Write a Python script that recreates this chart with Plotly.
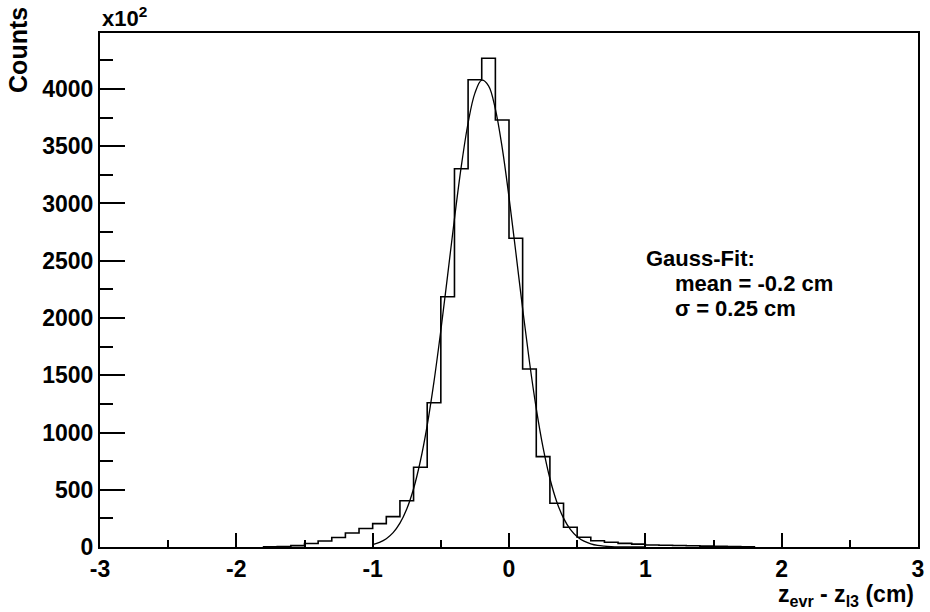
import plotly.graph_objects as go

# Histogram: lower bin edges (width 0.1) and counts (in units of 10^2)
bin_lo = [-1.8, -1.7, -1.6, -1.5, -1.4, -1.3, -1.2, -1.1, -1.0, -0.9,
          -0.8, -0.7, -0.6, -0.5, -0.4, -0.3, -0.2, -0.1, 0.0, 0.1,
          0.2, 0.3, 0.4, 0.5, 0.6, 0.7, 0.8, 0.9, 1.0, 1.1,
          1.2, 1.3, 1.4, 1.5, 1.6, 1.7]
counts = [2, 5, 12, 30, 52, 83, 122, 162, 204, 265,
          404, 696, 1260, 2186, 3304, 4081, 4268, 3729, 2696, 1555,
          789, 382, 172, 85, 55, 42, 32, 25, 18, 15,
          13, 11, 8, 6, 4, 2]
bin_width = 0.1

# Gauss fit curve
fit_x = [-1.0, -0.95, -0.9, -0.85, -0.8, -0.75, -0.7, -0.65, -0.6, -0.55,
         -0.5, -0.45, -0.4, -0.35, -0.3, -0.25, -0.2, -0.15, -0.1, -0.05,
         0.0, 0.05, 0.1, 0.15, 0.2, 0.25, 0.3, 0.35, 0.4, 0.45,
         0.5, 0.55, 0.6, 0.65, 0.7, 0.75, 0.8, 0.85, 0.9, 0.95, 1.0]
fit_y = [21, 40, 72, 125, 208, 332, 509, 751, 1063, 1447,
         1891, 2375, 2867, 3324, 3703, 3964, 4077, 4028, 3824, 3488,
         3056, 2574, 2082, 1618, 1208, 867, 598, 396, 252, 154,
         90, 51, 28, 14, 7, 3, 1, 1, 0, 0, 0]

x_ticks = [-3, -2, -1, 0, 1, 2, 3]
y_ticks = [0, 500, 1000, 1500, 2000, 2500, 3000, 3500, 4000]

FONT = "Liberation Sans, Arial, sans-serif"

# step outline
hx = [bin_lo[0]] + bin_lo + [bin_lo[-1] + bin_width]
hy = [0] + counts + [0]

fig = go.Figure()
fig.add_trace(go.Scatter(x=hx, y=hy, mode="lines", line_shape="hv",
                         line=dict(color="black", width=1.6), hoverinfo="skip"))
fig.add_trace(go.Scatter(x=fit_x, y=fit_y, mode="lines", line_shape="spline",
                         line=dict(color="black", width=1.3), hoverinfo="skip"))

fig.update_layout(
    width=930, height=612,
    margin=dict(l=100, r=6, t=33, b=65),
    paper_bgcolor="white", plot_bgcolor="white",
    showlegend=False,
    font=dict(family=FONT, size=24, color="black", weight=700),
)
fig.update_xaxes(
    range=[-3, 3], tickvals=x_ticks, ticktext=[str(v) for v in x_ticks],
    ticks="inside", ticklen=14, tickwidth=1.5, tickcolor="black",
    minor=dict(dtick=0.5, tick0=0, ticks="inside", ticklen=7, tickwidth=1.5, tickcolor="black"),
    showline=True, linecolor="black", linewidth=2, mirror=True,
    showgrid=False, zeroline=False, ticklabeloverflow="allow",
    tickfont=dict(family=FONT, size=23, weight=700),
)
fig.update_yaxes(
    range=[0, 4489], tickvals=y_ticks, ticktext=[str(v) for v in y_ticks],
    ticks="inside", ticklen=25, tickwidth=1.5, tickcolor="black",
    minor=dict(dtick=250, tick0=0, ticks="inside", ticklen=13, tickwidth=1.5, tickcolor="black"),
    showline=True, linecolor="black", linewidth=2, mirror=True,
    showgrid=False, zeroline=False, ticklabeloverflow="allow",
    tickfont=dict(family=FONT, size=23, weight=700),
)

ann_font = dict(family=FONT, size=22, color="black", weight=700)
fig.add_annotation(text="Counts", textangle=-90, xref="paper", yref="paper",
                   x=-0.1, y=1.055, xanchor="center", yanchor="top",
                   showarrow=False, font=dict(family=FONT, size=25, color="black", weight=700))
fig.add_annotation(text="x10<sup>2</sup>", xref="paper", yref="paper",
                   x=0.0, y=1.0, xanchor="left", yanchor="bottom",
                   showarrow=False, font=ann_font)
fig.add_annotation(text="z<sub>evr</sub> - z<sub>l3</sub> (cm)", xref="paper", yref="paper",
                   x=0.997, y=-0.063, xanchor="right", yanchor="top",
                   showarrow=False, font=dict(family=FONT, size=23, color="black", weight=700))
fig.add_annotation(text="Gauss-Fit:", xref="x", yref="y",
                   x=0.99, y=2524, xanchor="left", yanchor="middle",
                   showarrow=False, font=ann_font)
fig.add_annotation(text="mean = -0.2 cm", xref="x", yref="y",
                   x=1.2, y=2297, xanchor="left", yanchor="middle",
                   showarrow=False, font=ann_font)
fig.add_annotation(text="σ = 0.25 cm", xref="x", yref="y",
                   x=1.2, y=2087, xanchor="left", yanchor="middle",
                   showarrow=False, font=ann_font)

fig.write_html("out.html")
